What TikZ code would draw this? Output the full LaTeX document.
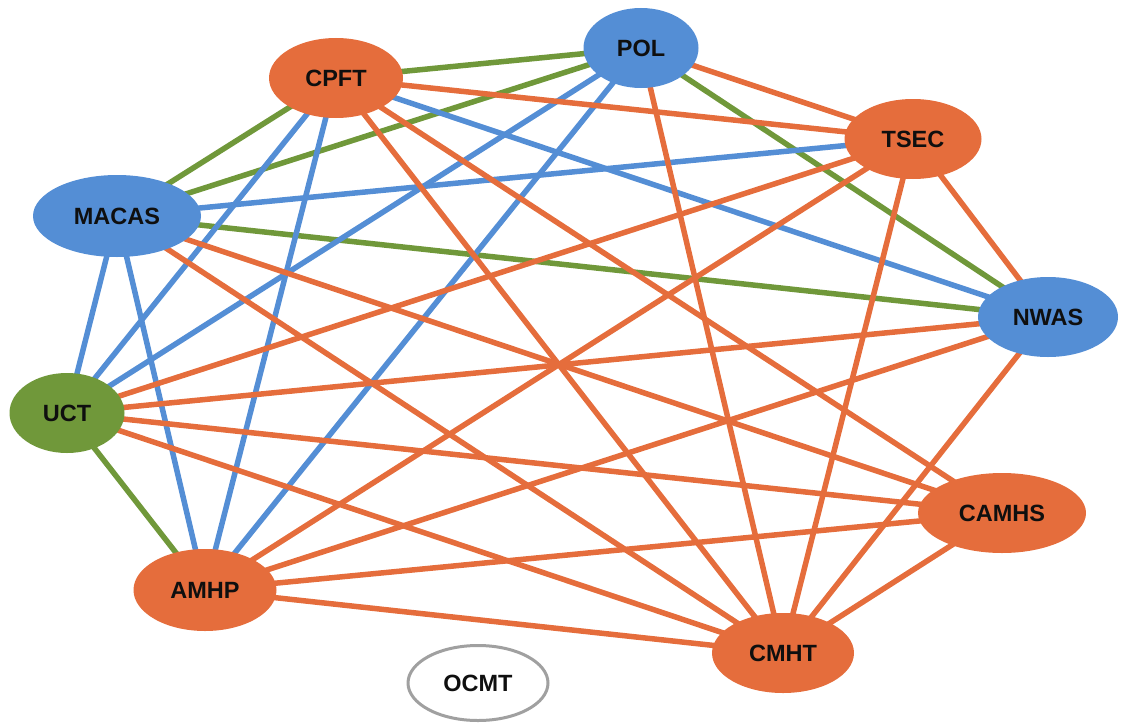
\documentclass[tikz,border=0pt]{standalone}
\usepackage{fontspec}
\setmainfont{Liberation Sans}
\usetikzlibrary{shapes.geometric,backgrounds}
\definecolor{netorange}{RGB}{229,109,60}
\definecolor{netblue}{RGB}{84,142,213}
\definecolor{netgreen}{RGB}{112,152,58}
\definecolor{netgray}{RGB}{160,160,160}
\definecolor{labelink}{RGB}{15,15,15}
\tikzset{
  agency/.style={ellipse, inner sep=0pt, text=labelink,
    font=\fontsize{23.5}{27}\selectfont\bfseries},
  orangenode/.style={agency, fill=netorange},
  bluenode/.style={agency, fill=netblue},
  greennode/.style={agency, fill=netgreen},
  isolated/.style={agency, fill=white, draw=netgray, line width=3pt},
  link/.style={line width=5.5pt},
  olink/.style={link, draw=netorange},
  blink/.style={link, draw=netblue},
  glink/.style={link, draw=netgreen},
}
\begin{document}
\begin{tikzpicture}[x=1pt,y=-1pt]
\useasboundingbox (0,0) rectangle (1123,725);

% agencies
\node[bluenode,   minimum width=115pt, minimum height=80pt] (pol)   at (641,48)   {POL};
\node[orangenode, minimum width=134pt, minimum height=80pt] (cpft)  at (336,78)   {CPFT};
\node[orangenode, minimum width=137pt, minimum height=80pt] (tsec)  at (913,139)  {TSEC};
\node[bluenode,   minimum width=168pt, minimum height=82pt] (macas) at (117,216)  {MACAS};
\node[bluenode,   minimum width=140pt, minimum height=80pt] (nwas)  at (1048,317) {NWAS};
\node[greennode,  minimum width=115pt, minimum height=80pt] (uct)   at (67,413)   {UCT};
\node[orangenode, minimum width=168pt, minimum height=80pt] (camhs) at (1002,513) {CAMHS};
\node[orangenode, minimum width=143pt, minimum height=82pt] (amhp)  at (205,590)  {AMHP};
\node[orangenode, minimum width=142pt, minimum height=80pt] (cmht)  at (783,653)  {CMHT};
\node[isolated,   minimum width=140pt, minimum height=75pt] (ocmt)  at (478,683)  {OCMT};

\begin{scope}[on background layer]
% green links
\draw[glink] (pol.center) -- (cpft.center);
\draw[glink] (pol.center) -- (macas.center);
\draw[glink] (cpft.center) -- (macas.center);
\draw[glink] (pol.center) -- (nwas.center);
\draw[glink] (macas.center) -- (nwas.center);
\draw[glink] (uct.center) -- (amhp.center);
% blue links
\draw[blink] (cpft.center) -- (nwas.center);
\draw[blink] (macas.center) -- (tsec.center);
\draw[blink] (pol.center) -- (uct.center);
\draw[blink] (pol.center) -- (amhp.center);
\draw[blink] (cpft.center) -- (uct.center);
\draw[blink] (cpft.center) -- (amhp.center);
\draw[blink] (macas.center) -- (uct.center);
\draw[blink] (macas.center) -- (amhp.center);
% orange links
\draw[olink] (cpft.center) -- (tsec.center);
\draw[olink] (cpft.center) -- (camhs.center);
\draw[olink] (cpft.center) -- (cmht.center);
\draw[olink] (pol.center) -- (tsec.center);
\draw[olink] (pol.center) -- (cmht.center);
\draw[olink] (tsec.center) -- (nwas.center);
\draw[olink] (tsec.center) -- (uct.center);
\draw[olink] (tsec.center) -- (amhp.center);
\draw[olink] (tsec.center) -- (cmht.center);
\draw[olink] (macas.center) -- (camhs.center);
\draw[olink] (macas.center) -- (cmht.center);
\draw[olink] (uct.center) -- (nwas.center);
\draw[olink] (uct.center) -- (camhs.center);
\draw[olink] (uct.center) -- (cmht.center);
\draw[olink] (amhp.center) -- (nwas.center);
\draw[olink] (amhp.center) -- (camhs.center);
\draw[olink] (amhp.center) -- (cmht.center);
\draw[olink] (nwas.center) -- (cmht.center);
\draw[olink] (camhs.center) -- (cmht.center);
\end{scope}
\end{tikzpicture}
\end{document}
